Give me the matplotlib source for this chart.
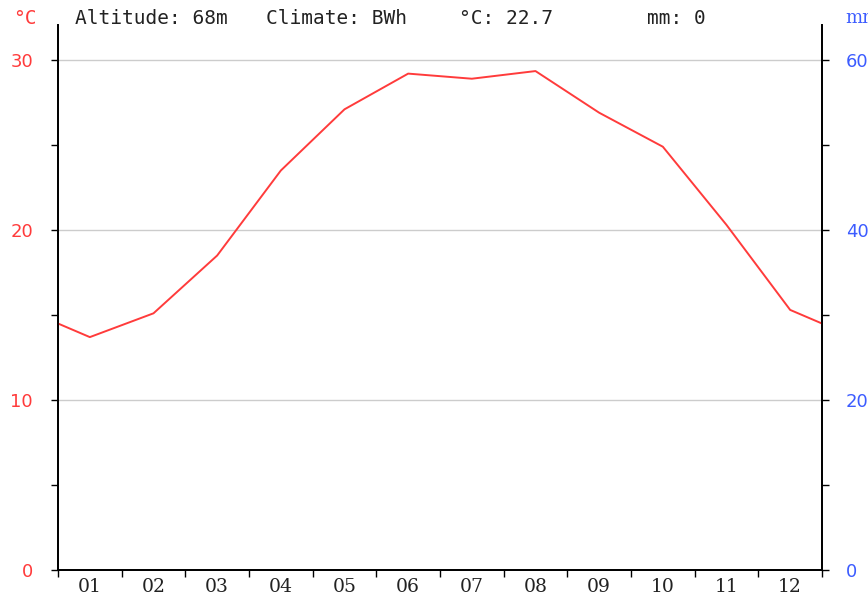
import matplotlib
matplotlib.use("Agg")
import matplotlib.pyplot as plt
import numpy as np

# Monthly mean temperature (°C)
months = ["01", "02", "03", "04", "05", "06", "07", "08", "09", "10", "11", "12"]
temp_c = [13.7, 15.1, 18.5, 23.5, 27.1, 29.2, 28.9, 29.35, 26.9, 24.9, 20.3, 15.3]
precip_mm = [0, 0, 0, 0, 0, 0, 0, 0, 0, 0, 0, 0]

altitude = "68m"
climate = "BWh"

RED = "#ff3b3b"
BLUE = "#3c5cff"
GRID = "#cccccc"

fig = plt.figure(figsize=(8.68, 6.01), dpi=100)
ax = fig.add_axes([58 / 868, 31 / 601, 764 / 868, 545 / 601])
ax2 = ax.twinx()

# line wraps round the year: edges take the Dec/Jan midpoint
edge = (temp_c[0] + temp_c[-1]) / 2
x = np.concatenate([[0], np.arange(12) + 0.5, [12]])
y = np.concatenate([[edge], temp_c, [edge]])
ax.plot(x, y, color=RED, linewidth=1.4, zorder=3)

ax.set_xlim(0, 12)
ax.set_ylim(0, 32.06)
ax2.set_ylim(0, 64.12)

for v in [10, 20, 30]:
    ax.axhline(v, color=GRID, linewidth=1.0, zorder=1)

ax.set_yticks([0, 10, 20, 30])
ax.set_yticks([5, 15, 25], minor=True)
ax2.set_yticks([0, 20, 40, 60])
ax2.set_yticks([10, 30, 50], minor=True)

ax.set_xticks(np.arange(13))
ax.set_xticklabels([])
ax.set_xticks(np.arange(12) + 0.5, minor=True)
ax.set_xticklabels(months, minor=True, family="DejaVu Serif", fontsize=13.5, color="#222222")
ax.tick_params(axis="x", which="major", direction="out", length=5, width=1)
ax.tick_params(axis="x", which="minor", length=0, pad=6)

ax.tick_params(axis="y", which="both", direction="out", length=5, width=1,
               labelcolor=RED, labelsize=13, pad=13)
ax2.tick_params(axis="y", which="both", direction="out", length=5, width=1,
                labelcolor=BLUE, labelsize=13, pad=12)

for a in (ax, ax2):
    a.spines["top"].set_visible(False)
    a.spines["left"].set_linewidth(1.3)
    a.spines["right"].set_linewidth(1.3)
    a.spines["bottom"].set_linewidth(1.3)

# header texts
mono = dict(family="DejaVu Sans Mono", fontsize=14, color="#222222", va="center")
fig.text(13 / 868, 1 - 18 / 601, "°C", ha="left", va="center",
         family="DejaVu Sans Mono", fontsize=14, color=RED)
fig.text(75 / 868, 1 - 18 / 601, f"Altitude: {altitude}", ha="left", **mono)
fig.text(266 / 868, 1 - 18 / 601, f"Climate: {climate}", ha="left", **mono)
fig.text(459 / 868, 1 - 18 / 601, f"°C: {np.mean(temp_c):.1f}", ha="left", **mono)
fig.text(647 / 868, 1 - 18 / 601, f"mm: {sum(precip_mm)}", ha="left", **mono)
fig.text(845 / 868, 1 - 18 / 601, "mm", ha="left", va="center",
         family="DejaVu Serif", fontsize=13, color=BLUE)

fig.savefig("out.png", dpi=100)
